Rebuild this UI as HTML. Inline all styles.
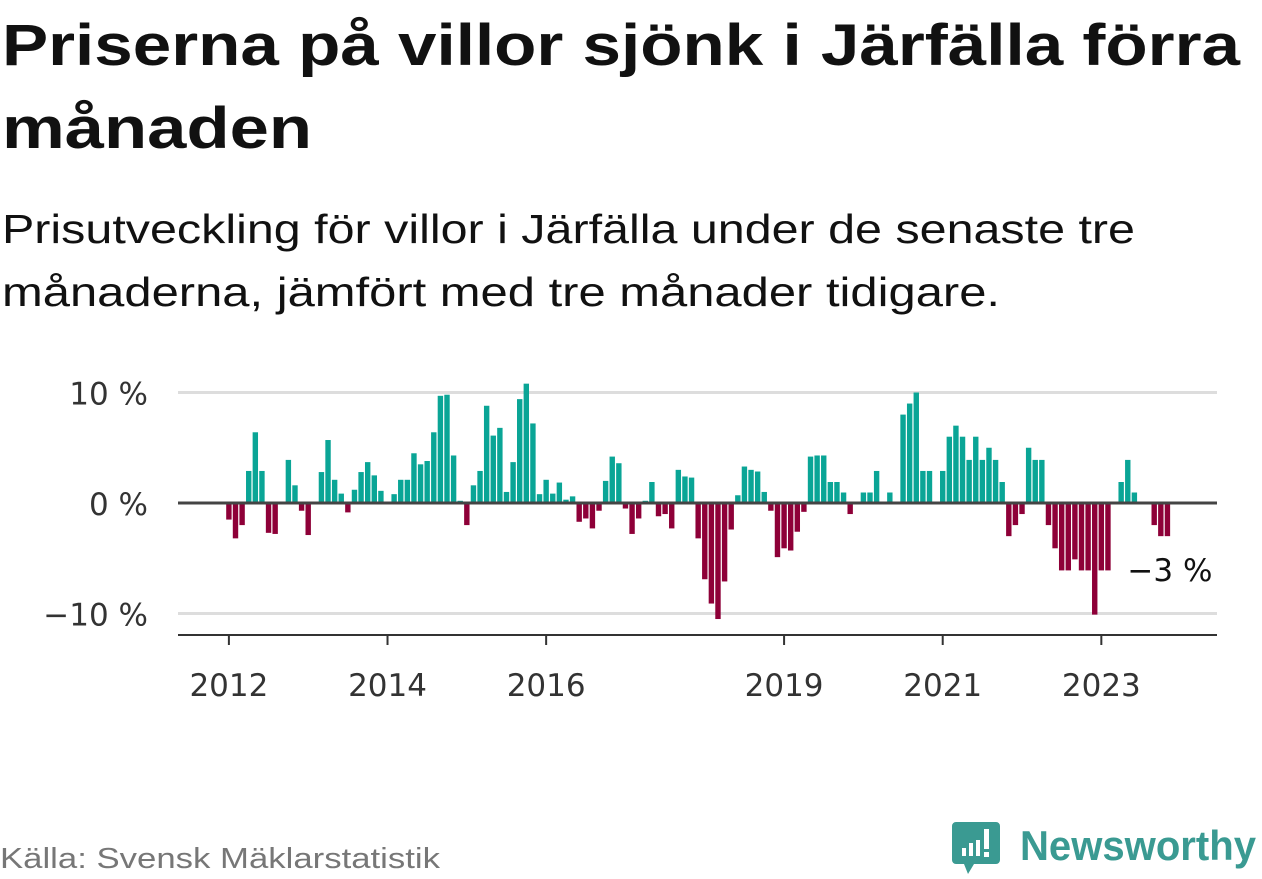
<!DOCTYPE html>
<html><head><meta charset="utf-8">
<style>
body{margin:0;background:#fff;width:1262px;height:879px;overflow:hidden;font-family:"DejaVu Sans",sans-serif;}
svg{position:absolute;left:0;top:0;}
</style></head><body>
<svg width="1262" height="879" font-family="Liberation Sans, sans-serif">
 <text x="2" y="65" font-size="58" font-weight="bold" fill="#111" textLength="1238" lengthAdjust="spacingAndGlyphs">Priserna på villor sjönk i Järfälla förra</text>
 <text x="2" y="148" font-size="58" font-weight="bold" fill="#111" textLength="310" lengthAdjust="spacingAndGlyphs">månaden</text>
 <text x="2" y="243" font-size="41" fill="#111" textLength="1133" lengthAdjust="spacingAndGlyphs">Prisutveckling för villor i Järfälla under de senaste tre</text>
 <text x="2" y="306" font-size="41" fill="#111" textLength="998" lengthAdjust="spacingAndGlyphs">månaderna, jämfört med tre månader tidigare.</text>
 <text x="0" y="868" font-size="29" fill="#777" textLength="440" lengthAdjust="spacingAndGlyphs">Källa: Svensk Mäklarstatistik</text>
</svg>
<svg id="chart" width="1262" height="879"></svg>
<svg width="1262" height="879">
 <path d="M956 822 h40 a4 4 0 0 1 4 4 v34 a4 4 0 0 1 -4 4 h-22 l-6 10 l-4 -10 h-8 a4 4 0 0 1 -4 -4 v-34 a4 4 0 0 1 4 -4z" fill="#3a9a92"/>
 <rect x="962" y="848" width="4" height="8" fill="#fff"/><rect x="969" y="843" width="4" height="13" fill="#fff"/><rect x="976" y="840" width="4" height="16" fill="#fff"/><rect x="984" y="829" width="5" height="20" fill="#fff"/><rect x="984" y="852" width="5" height="5" fill="#fff"/>
 <text x="1020" y="860" font-size="42" font-weight="bold" fill="#3a9a92" font-family="Liberation Sans, sans-serif" textLength="236" lengthAdjust="spacingAndGlyphs">Newsworthy</text>
</svg>
<script>
const values = [-1.5,-3.2,-2.0,2.9,6.4,2.9,-2.7,-2.8,0,3.9,1.6,-0.7,-2.9,0,2.8,5.7,2.1,0.85,-0.85,1.2,2.8,3.7,2.5,1.1,
0,0.8,2.1,2.1,4.5,3.5,3.8,6.4,9.7,9.8,4.3,0.2,-2.0,1.6,2.9,8.8,6.1,6.8,1.0,3.7,9.4,10.8,7.2,0.8,
2.1,0.85,1.85,0.3,0.6,-1.7,-1.4,-2.3,-0.7,2.0,4.2,3.6,-0.5,-2.8,-1.4,0.2,1.9,-1.2,-1.0,-2.3,3.0,2.4,2.3,-3.2,
-6.9,-9.1,-10.5,-7.1,-2.4,0.7,3.3,3.0,2.85,1.0,-0.7,-4.9,-4.1,-4.3,-2.6,-0.8,4.2,4.3,4.3,1.9,1.9,0.95,-1.0,0,
0.95,0.95,2.9,0,0.95,0,8.0,9.0,10.0,2.9,2.9,0,2.9,6.0,7.0,6.0,3.9,6.0,3.9,5.0,3.9,1.9,-3.0,-2.0,-1.0,5.0,3.9,3.9,
-2.0,-4.1,-6.1,-6.1,-5.1,-6.1,-6.1,-10.1,-6.1,-6.1,0,1.9,3.9,0.95,0,0,-2.0,-3.0,-3.0];
const startYear = 2012;
const yTicks = [10,0,-10];
const yTickLabels = ["10 %","0 %","\u221210 %"];
const xTickYears = [2012,2014,2016,2019,2021,2023];
const lastLabel = "\u22123 %";

const NS="http://www.w3.org/2000/svg";
const svg=document.getElementById('chart');
const X0=178,X1=1217,M0=-7.7,M1=149.5;
const FONT='DejaVu Sans, sans-serif';
const xs=m=>X0+(m-M0)/(M1-M0)*(X1-X0);
const ys=v=>503-v*11.05;
function mk(t,a){const e=document.createElementNS(NS,t);for(const k in a)e.setAttribute(k,a[k]);svg.appendChild(e);return e;}
yTicks.forEach((t,i)=>{
 if(t!==0){const g=mk('line',{x1:X0,x2:X1,y1:ys(t),y2:ys(t),stroke:'#ddd','stroke-width':3});
 
 }
 const l=mk('text',{x:148,y:ys(t)+12,'text-anchor':'end','font-size':31,fill:'#333','font-family':FONT});
 l.textContent=yTickLabels[i];
 
 
});
values.forEach((v,i)=>{
 const cx=xs(i),y0=ys(0),y1=ys(v);
 const b=mk('rect',{x:cx-2.7,width:5.4,y:Math.min(y0,y1),height:Math.abs(y1-y0),fill:v>=0?'#0aa596':'#8e0038'});
 
 
});
const z=mk('line',{x1:X0,x2:X1,y1:ys(0),y2:ys(0),stroke:'#444','stroke-width':3});


const ax=mk('line',{x1:X0,x2:X1,y1:635,y2:635,stroke:'#333','stroke-width':2});


xTickYears.forEach(yr=>{
 const x=xs((yr-startYear)*12);
 const t=mk('line',{x1:x,x2:x,y1:635,y2:645,stroke:'#333','stroke-width':2});
 
 
 const l=mk('text',{x:x,y:696,'text-anchor':'middle','font-size':31,fill:'#333','font-family':FONT});
 l.textContent=yr;
 
 
});
const last=values.length-1;
const ll=mk('text',{x:xs(last)-40,y:ys(values[last])+45,'font-size':31,fill:'#111','font-family':FONT});
ll.textContent=lastLabel;


</script>
</body></html>
